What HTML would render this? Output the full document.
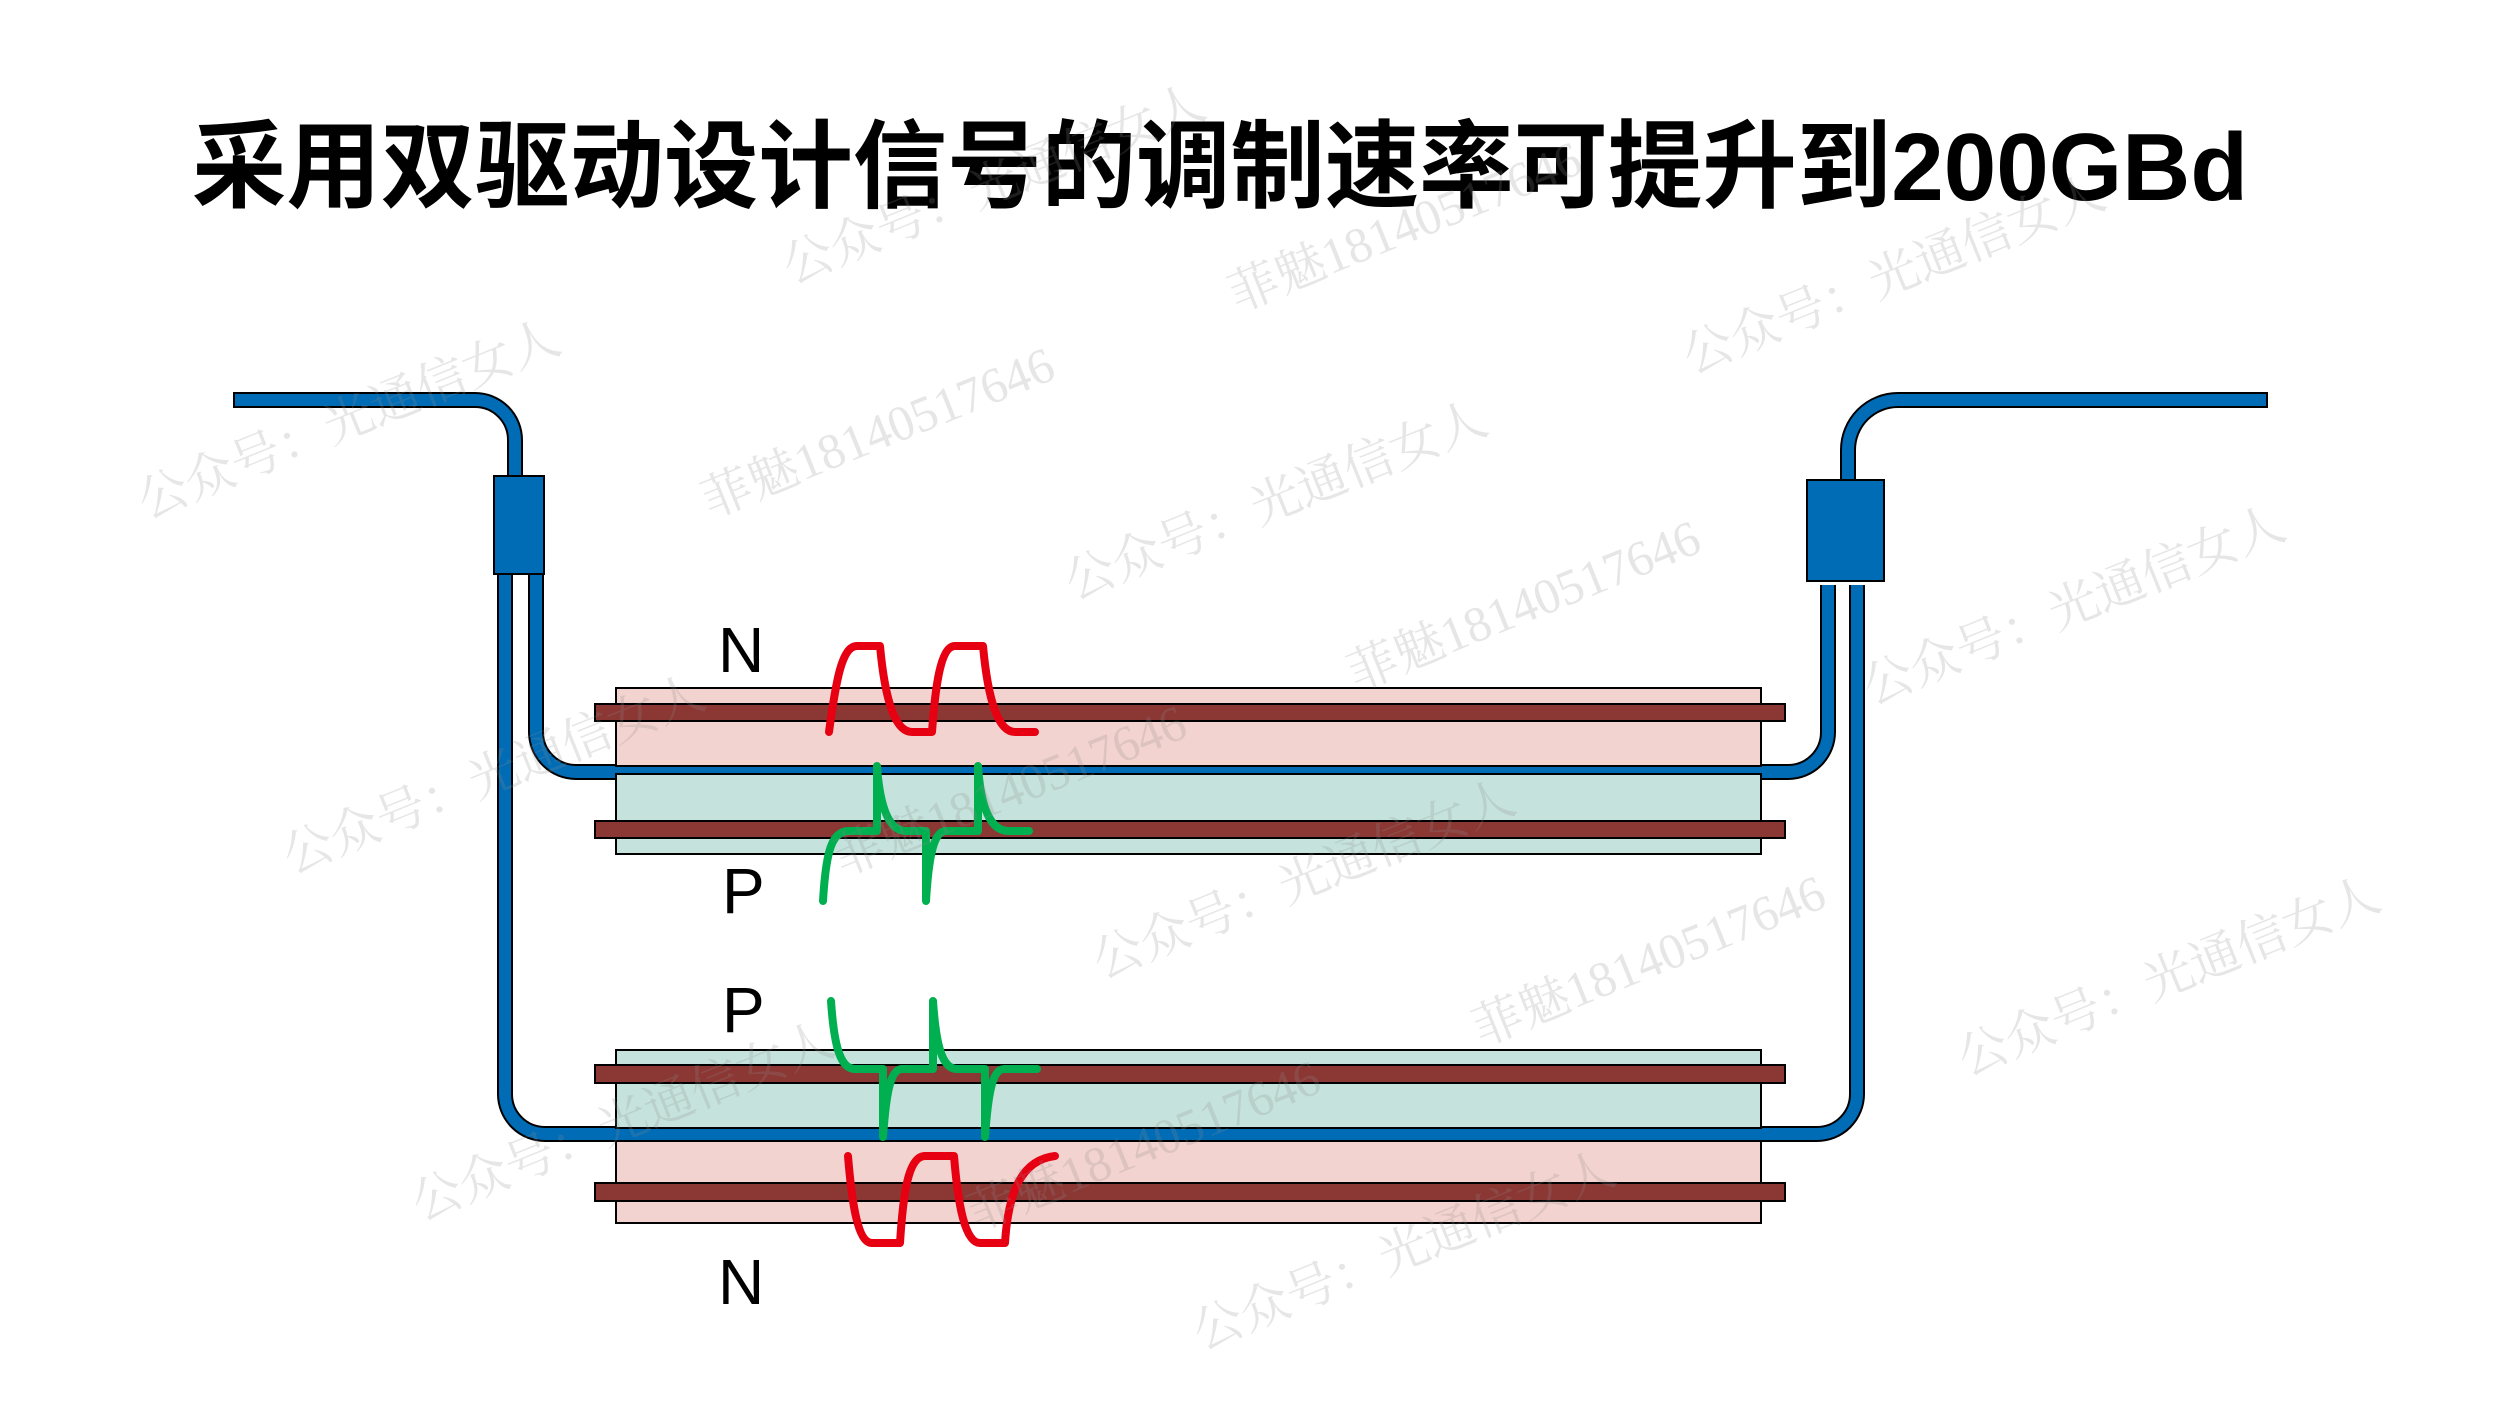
<!DOCTYPE html>
<html><head><meta charset="utf-8"><style>
html,body{margin:0;padding:0;background:#fff;}
svg{display:block;}
</style></head><body>
<svg width="2500" height="1406" viewBox="0 0 2500 1406" xmlns="http://www.w3.org/2000/svg">
<rect width="2500" height="1406" fill="#fff"/>
<text x="192" y="200" font-family="'Liberation Sans','Noto Sans CJK SC',sans-serif" font-size="96" font-weight="bold" fill="#000" textLength="2056" lengthAdjust="spacingAndGlyphs">采用双驱动设计信号的调制速率可提升到200GBd</text>

<g fill="none" stroke-linecap="butt" stroke-linejoin="round">
 <g stroke="#000" stroke-width="16">
  <path d="M233,400 H475 A40,40 0 0 1 515,440 V480"/>
  <path d="M505,570 V1094 A40,40 0 0 0 545,1134 H1817 A40,40 0 0 0 1857,1094 V585"/>
  <path d="M536,570 V732 A40,40 0 0 0 576,772 H1788 A40,40 0 0 0 1828,732 V585"/>
  <path d="M1848,484 V450 A50,50 0 0 1 1898,400 H2268"/>
 </g>
 <g stroke="#006cb6" stroke-width="12">
  <path d="M235,400 H475 A40,40 0 0 1 515,440 V480"/>
  <path d="M505,570 V1094 A40,40 0 0 0 545,1134 H1817 A40,40 0 0 0 1857,1094 V585"/>
  <path d="M536,570 V732 A40,40 0 0 0 576,772 H1788 A40,40 0 0 0 1828,732 V585"/>
  <path d="M1848,484 V450 A50,50 0 0 1 1898,400 H2266"/>
 </g>
</g>
<rect x="494" y="476" width="50" height="98" fill="#006cb6" stroke="#000" stroke-width="2"/>
<rect x="1807" y="480" width="77" height="101" fill="#006cb6" stroke="#000" stroke-width="2"/>

<g stroke="#000" stroke-width="2">
 <rect x="616" y="688" width="1145" height="78" fill="#f3d3cf"/>
 <rect x="616" y="774" width="1145" height="80" fill="#c6e2dc"/>
 <rect x="616" y="1050" width="1145" height="78" fill="#c6e2dc"/>
 <rect x="616" y="1141" width="1145" height="82" fill="#f3d3cf"/>
 <rect x="595" y="704" width="1190" height="17" fill="#8b3835"/>
 <rect x="595" y="821" width="1190" height="17" fill="#8b3835"/>
 <rect x="595" y="1065" width="1190" height="18" fill="#8b3835"/>
 <rect x="595" y="1183" width="1190" height="18" fill="#8b3835"/>
</g>

<g fill="none" stroke-width="8" stroke-linecap="round" stroke-linejoin="round">
 <path stroke="#e60012" d="M829,732 C836,680 842,646 857,646 L880,646 C885,700 895,732 912,732 L932,732 C935,690 940,646 955,646 L983,646 C988,700 998,732 1015,732 L1035,732"/>
 <path stroke="#00b050" d="M823,901 C826,850 832,831 849,831 L877,831 L877,766 C880,810 890,831 906,831 L926,831 L926,901 C929,850 935,831 946,831 L978,831 L978,766 C981,810 991,831 1009,831 L1029,831"/>
 <path stroke="#00b050" d="M831,1001 C834,1045 840,1069 855,1069 L883,1069 L883,1137 C886,1095 890,1069 902,1069 L933,1069 L933,1001 C936,1045 942,1069 957,1069 L985,1069 L985,1137 C988,1095 992,1069 1004,1069 L1037,1069"/>
 <path stroke="#e60012" d="M848,1156 C852,1205 858,1243 872,1243 L900,1243 C903,1195 908,1156 925,1156 L954,1156 C958,1205 965,1243 980,1243 L1005,1243 C1008,1195 1020,1160 1055,1156"/>
</g>

<g font-family="'Liberation Sans','DejaVu Sans',sans-serif" font-size="64" fill="#000">
 <text x="718" y="672">N</text>
 <text x="722" y="913">P</text>
 <text x="722" y="1032">P</text>
 <text x="718" y="1304">N</text>
</g>

<g font-family="'Liberation Serif','Noto Serif CJK SC',serif" font-size="50" fill="rgba(140,140,140,0.22)" text-anchor="middle">
 <text transform="translate(355,435) rotate(-22)">公众号：光通信女人</text>
 <text transform="translate(884,448) rotate(-22)">菲魅18140517646</text>
 <text transform="translate(1282,516) rotate(-22)">公众号：光通信女人</text>
 <text transform="translate(1411,242) rotate(-22)">菲魅18140517646</text>
 <text transform="translate(1900,290) rotate(-22)">公众号：光通信女人</text>
 <text transform="translate(1530,621) rotate(-22)">菲魅18140517646</text>
 <text transform="translate(2080,621) rotate(-22)">公众号：光通信女人</text>
 <text transform="translate(500,790) rotate(-22)">公众号：光通信女人</text>
 <text transform="translate(1016,806) rotate(-22)">菲魅18140517646</text>
 <text transform="translate(1310,895) rotate(-22)">公众号：光通信女人</text>
 <text transform="translate(1655,976) rotate(-22)">菲魅18140517646</text>
 <text transform="translate(2175,992) rotate(-22)">公众号：光通信女人</text>
 <text transform="translate(629,1137) rotate(-22)">公众号：光通信女人</text>
 <text transform="translate(1150,1161) rotate(-22)">菲魅18140517646</text>
 <text transform="translate(1410,1266) rotate(-22)">公众号：光通信女人</text>
 <text transform="translate(1000,200) rotate(-22)">公众号：光通信女人</text>
</g>
</svg>
</body></html>
